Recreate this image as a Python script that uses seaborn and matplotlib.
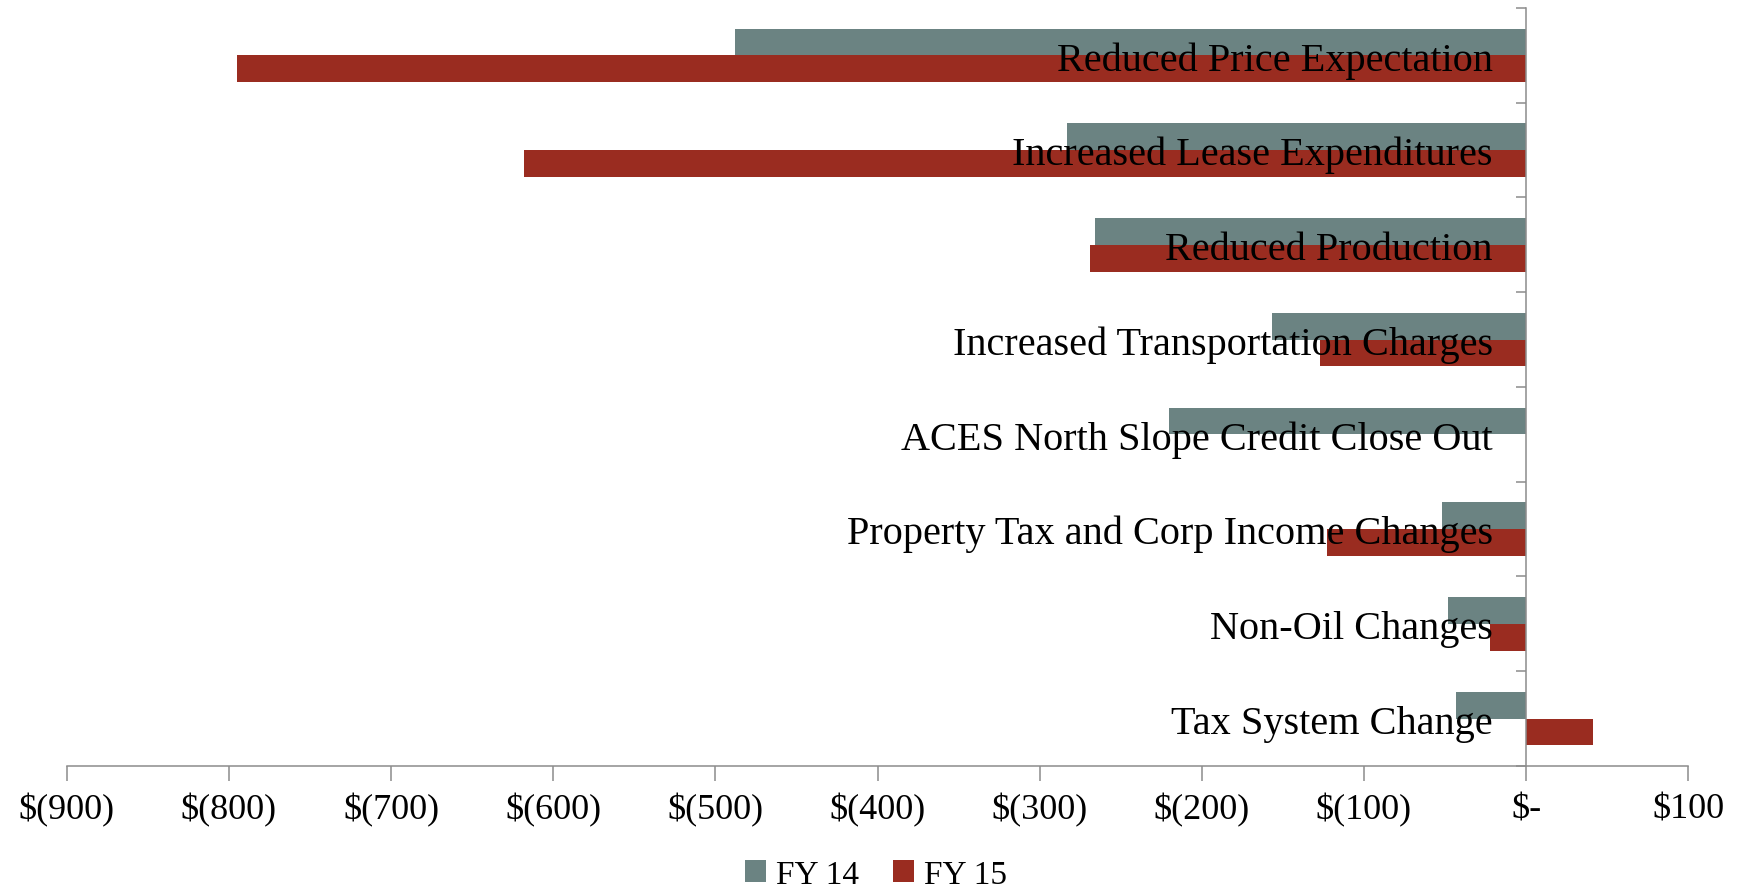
import matplotlib.pyplot as plt
import matplotlib.ticker as mticker
import pandas as pd
import seaborn as sns

categories = ['Reduced Price Expectation', 'Increased Lease Expenditures',
              'Reduced Production', 'Increased Transportation Charges',
              'ACES North Slope Credit Close Out',
              'Property Tax and Corp Income Changes', 'Non-Oil Changes',
              'Tax System Change']
fy14 = [-488, -283, -266, -157, -220, -52, -48, -43]
fy15 = [-795, -618, -269, -127, 0, -123, -22, 41]
series = ['FY 14', 'FY 15']
colors = ['#6b8382', '#9a2c20']
xticks = [-900, -800, -700, -600, -500, -400, -300, -200, -100, 0, 100]

df = pd.DataFrame({
    'category': categories * 2,
    'value': fy14 + fy15,
    'year': [series[0]] * len(categories) + [series[1]] * len(categories),
})

sns.set_style('white')
plt.rcParams['font.family'] = ['Liberation Serif', 'DejaVu Serif']
plt.rcParams['text.color'] = 'black'
plt.rcParams['xtick.color'] = 'black'
plt.rcParams['ytick.color'] = 'black'

fig, ax = plt.subplots(figsize=(17.45, 8.95), dpi=100)
fig.subplots_adjust(left=0.0383, right=0.9675, top=0.990, bottom=0.143)

sns.barplot(data=df, x='value', y='category', hue='year', orient='h',
            palette=colors, saturation=1, width=0.565, linewidth=0, ax=ax)

handles, labels = ax.get_legend_handles_labels()
ax.get_legend().remove()

ax.set_xlim(-900, 100)
ax.set_ylim(len(categories) - 0.5, -0.5)
ax.set_xlabel('')
ax.set_ylabel('')
ax.set_axisbelow(False)  # category labels sit on top of the bars

# accounting style dollar labels
def money(v, pos=None):
    if abs(v) < 1e-9:
        return '$-'
    if v < 0:
        return '$(%d)' % abs(v)
    return '$%d' % v

ax.set_xticks(xticks)
ax.xaxis.set_major_formatter(mticker.FuncFormatter(money))
ax.tick_params(axis='x', length=11, width=1.1, color='#8c8c8c', pad=8,
               labelsize=26, labelcolor='black', direction='out', bottom=True)

# y axis sits at zero, labels right-aligned beside it
for s in ['top', 'right']:
    ax.spines[s].set_visible(False)
ax.spines['left'].set_position(('data', 0))
for s in ['left', 'bottom']:
    ax.spines[s].set_color('#8c8c8c')
    ax.spines[s].set_linewidth(1.1)

ax.set_yticks(range(len(categories)))
ax.set_yticklabels(categories)
ax.set_yticks([i - 0.5 for i in range(len(categories) + 1)], minor=True)
ax.tick_params(axis='y', which='major', length=0, pad=24, labelsize=29,
               labelcolor='black', left=True)
ax.tick_params(axis='y', which='minor', length=7, width=1.1,
               color='#8c8c8c', left=True, direction='out')

fig.legend(handles, labels, loc='center', bbox_to_anchor=(0.502, 0.022),
           ncol=2, frameon=False, fontsize=24, handlelength=0.65,
           handleheight=0.65, handletextpad=0.3, columnspacing=1.0,
           borderpad=0.1)

fig.savefig('out.png', dpi=100)
